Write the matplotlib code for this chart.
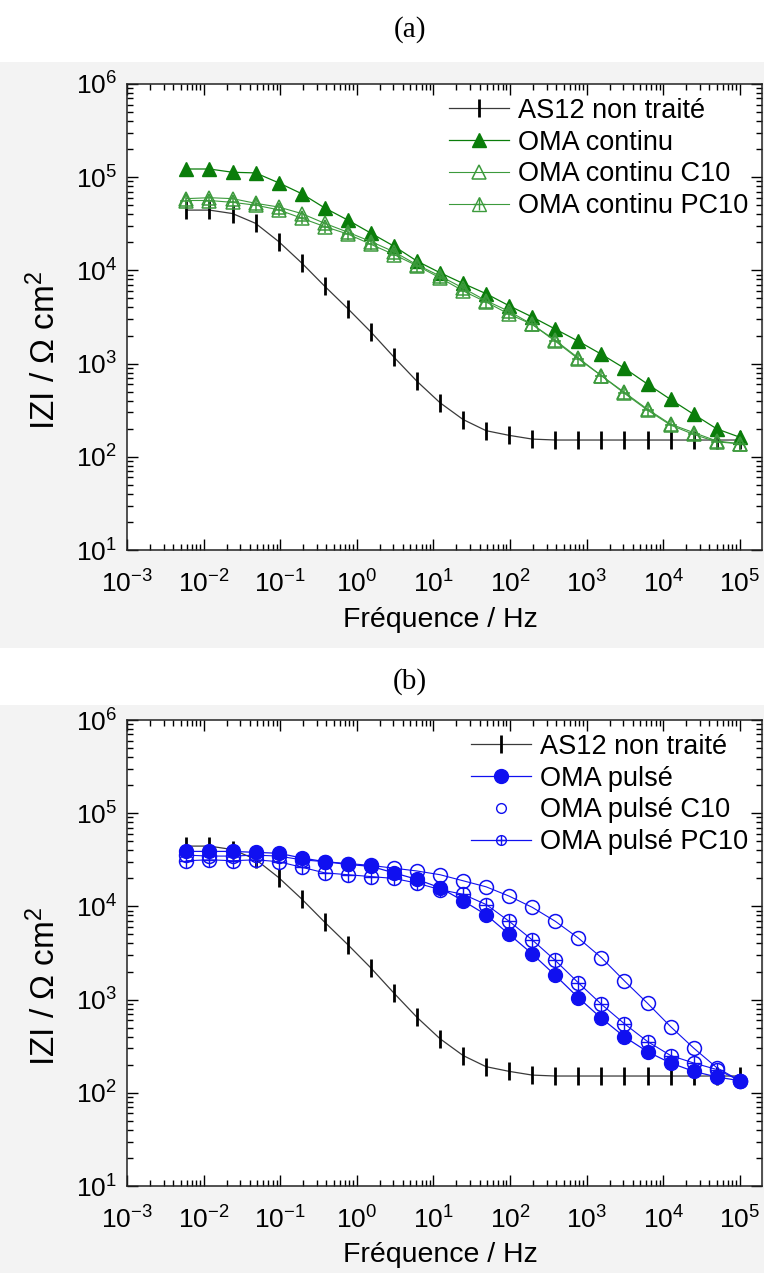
import matplotlib
matplotlib.use("Agg")
import matplotlib.pyplot as plt
import numpy as np
from matplotlib.patches import Rectangle
from matplotlib.lines import Line2D
from matplotlib.ticker import LogLocator, NullFormatter

plt.rcParams['font.family'] = ['Liberation Sans', 'DejaVu Sans']
plt.rcParams['mathtext.fontset'] = 'custom'
plt.rcParams['mathtext.rm'] = 'Liberation Sans'
plt.rcParams['mathtext.default'] = 'regular'

# frequencies: 1e5 Hz halved 24 times
freq = 1e5 / 2.0 ** np.arange(25)

# log10 |Z|, ordered from high to low frequency
as12 = [2.18, 2.18, 2.18, 2.18, 2.18, 2.18, 2.18, 2.18, 2.18, 2.19, 2.23,
        2.28, 2.40, 2.58, 2.81, 3.07, 3.34, 3.59, 3.83, 4.08, 4.31, 4.505,
        4.61, 4.647, 4.647]

cont = [2.21, 2.30, 2.456, 2.615, 2.78, 2.95, 3.10, 3.24, 3.37, 3.50, 3.62,
        3.75, 3.86, 3.975, 4.10, 4.26, 4.40, 4.54, 4.67, 4.823, 4.94, 5.046,
        5.053, 5.088, 5.088]
cont_c10 = [2.14, 2.17, 2.26, 2.35, 2.51, 2.69, 2.87, 3.06, 3.25, 3.42, 3.56,
            3.675, 3.81, 3.94, 4.06, 4.20, 4.31, 4.41, 4.505, 4.61, 4.68, 4.72,
            4.77, 4.78, 4.77]
cont_pc10 = [2.14, 2.16, 2.24, 2.34, 2.50, 2.68, 2.87, 3.05, 3.24, 3.42, 3.53,
             3.66, 3.78, 3.92, 4.05, 4.17, 4.28, 4.39, 4.47, 4.56, 4.65, 4.70,
             4.73, 4.75, 4.75]

puls = [2.13, 2.17, 2.23, 2.32, 2.44, 2.60, 2.80, 3.02, 3.26, 3.49, 3.70,
        3.91, 4.06, 4.20, 4.29, 4.36, 4.43, 4.45, 4.48, 4.52, 4.57, 4.58,
        4.59, 4.59, 4.59]
puls_c10 = [2.13, 2.27, 2.48, 2.71, 2.96, 3.20, 3.45, 3.66, 3.84, 3.99, 4.11,
            4.21, 4.275, 4.34, 4.38, 4.41, 4.44, 4.46, 4.48, 4.50, 4.54, 4.55,
            4.54, 4.54, 4.55]
puls_pc10 = [2.13, 2.25, 2.32, 2.40, 2.55, 2.74, 2.95, 3.18, 3.42, 3.64, 3.84,
             4.02, 4.13, 4.18, 4.25, 4.30, 4.32, 4.34, 4.36, 4.42, 4.48, 4.50,
             4.49, 4.50, 4.49]

green = '#0a7d0a'
lgreen = '#3c9a3c'
blue = '#1010f0'
gray = '#3a3a3a'

W, H = 764, 1273
fig = plt.figure(figsize=(W / 100, H / 100), dpi=100)
fig.patch.set_facecolor('white')

# light gray panel backgrounds
for y0, y1 in [(62, 648), (705, 1273)]:
    fig.patches.append(Rectangle((0, 1 - y1 / H), 1, (y1 - y0) / H,
                                 transform=fig.transFigure, facecolor='#f3f3f3',
                                 edgecolor='none', zorder=-10))

fig.text(410 / W, 1 - 30 / H, '(a)', family='Liberation Serif', fontsize=21,
         ha='center', va='center')
fig.text(410 / W, 1 - 682 / H, '(b)', family='Liberation Serif', fontsize=21,
         ha='center', va='center')


def style_axes(ax, top, bottom, xlab_y):
    ax.set_xscale('log')
    ax.set_yscale('log')
    ax.set_xlim(1e-3, 10 ** 5.29)
    ax.set_ylim(1e1, 1e6)
    ax.set_facecolor('white')
    ax.xaxis.set_major_locator(LogLocator(base=10, numticks=20))
    ax.yaxis.set_major_locator(LogLocator(base=10, numticks=20))
    ax.xaxis.set_minor_locator(LogLocator(base=10, subs=np.arange(2, 10), numticks=20))
    ax.yaxis.set_minor_locator(LogLocator(base=10, subs=np.arange(2, 10), numticks=20))
    ax.xaxis.set_minor_formatter(NullFormatter())
    ax.yaxis.set_minor_formatter(NullFormatter())
    ax.tick_params(which='both', direction='in', top=True, right=True,
                   labelsize=19, width=1)
    ax.tick_params(which='major', length=8)
    ax.tick_params(axis='x', which='major', pad=15)
    ax.tick_params(axis='y', which='major', pad=7)
    ax.tick_params(which='minor', length=4)
    for s in ax.spines.values():
        s.set_linewidth(1.1)
        s.set_color('#222222')
    fig.text(440 / W, 1 - xlab_y / H, 'Fréquence / Hz', fontsize=20.5,
             ha='center', va='center')
    fig.text(45 / W, 1 - (top + 266) / H, 'IZI / Ω cm$^2$', fontsize=24,
             rotation=90, ha='center', va='center')


def plot_as12(ax):
    ax.plot(freq, 10 ** np.array(as12), color=gray, lw=0.9, marker='|',
            ms=13, mew=2, mec='black', label='AS12 non traité')


leg_kw = dict(loc='upper right', frameon=False, fontsize=19.5, handlelength=2.2,
              handletextpad=0.35, labelspacing=0.22, borderaxespad=0.2,
              borderpad=0.3)

# panel (a)
ax1 = fig.add_axes([127 / W, 1 - 550 / H, 635 / W, 466 / H])
style_axes(ax1, 84, 550, 620)
plot_as12(ax1)
ax1.plot(freq, 10 ** np.array(cont), color=green, lw=0.9, marker='^', ms=10,
         mfc=green, mec=green, label='OMA continu')
ax1.plot(freq, 10 ** np.array(cont_c10), color=lgreen, lw=0.8, marker='^', ms=10,
         mfc='none', mec=lgreen, mew=1.1, label='OMA continu C10')
ax1.plot(freq, 10 ** np.array(cont_pc10), color=lgreen, lw=0.8, marker='^', ms=10,
         mfc='none', mec=lgreen, mew=1.1)
ax1.plot(freq, 10 ** np.array(cont_pc10), ls='none', marker='+', ms=9,
         mec=lgreen, mew=1.1)
h_pc = (Line2D([], [], color=lgreen, lw=0.8, marker='^', ms=10, mfc='none', mec=lgreen),
        Line2D([], [], ls='none', marker='+', ms=9, mec=lgreen))
h1, l1 = ax1.get_legend_handles_labels()
ax1.legend(h1 + [h_pc], l1 + ['OMA continu PC10'], **leg_kw)

# panel (b)
ax2 = fig.add_axes([127 / W, 1 - 1186 / H, 635 / W, 466 / H])
style_axes(ax2, 720, 1186, 1255)
plot_as12(ax2)
ax2.plot(freq, 10 ** np.array(puls), color=blue, lw=0.9, marker='o', ms=10,
         mfc=blue, mec=blue, label='OMA pulsé')
ax2.plot(freq, 10 ** np.array(puls_c10), color=blue, lw=0.8, marker='o', ms=10,
         mfc='none', mec=blue, mew=1.1)
ax2.plot(freq, 10 ** np.array(puls_pc10), color=blue, lw=0.8, marker='o', ms=10,
         mfc='none', mec=blue, mew=1.1)
ax2.plot(freq, 10 ** np.array(puls_pc10), ls='none', marker='+', ms=10,
         mec=blue, mew=1.0)
h_c10 = Line2D([], [], ls='none', marker='o', ms=7, mfc='none', mec=blue)
h_pc10 = (Line2D([], [], color=blue, lw=0.9, marker='o', ms=7, mfc='none', mec=blue),
          Line2D([], [], ls='none', marker='+', ms=7, mec=blue))
h2, l2 = ax2.get_legend_handles_labels()
ax2.legend(h2 + [h_c10, h_pc10], l2 + ['OMA pulsé C10', 'OMA pulsé PC10'], **leg_kw)

fig.savefig('out.png', dpi=100, facecolor=fig.get_facecolor())
